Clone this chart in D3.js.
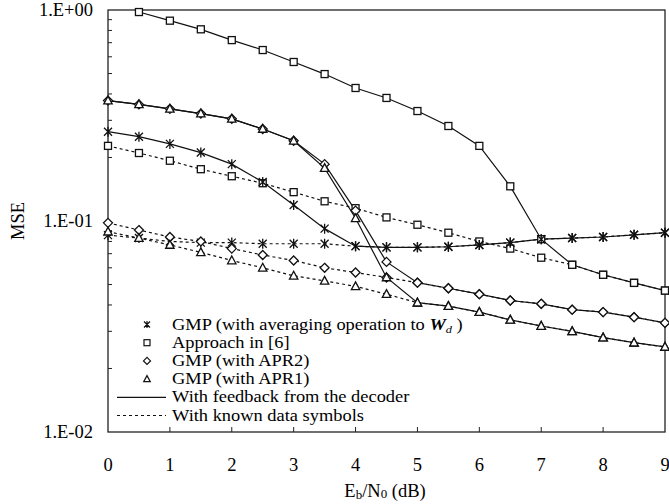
<!DOCTYPE html>
<html><head><meta charset="utf-8">
<script src="https://cdn.jsdelivr.net/npm/d3@7"></script>
<style>body{margin:0;background:#fff}svg{display:block}</style>
</head><body><svg id="c" width="669" height="504"></svg>
<script>
const xVals = [0,0.5,1,1.5,2,2.5,3,3.5,4,4.5,5,5.5,6,6.5,7,7.5,8,8.5,9];
const xTicks = [0,1,2,3,4,5,6,7,8,9];
const yTickVals = [1, 0.1, 0.01];
const yTickLabels = ["1.E+00","1.E-01","1.E-02"];

// Approach in [6]
const apFeedback = [null,0.978,0.89,0.81,0.72,0.646,0.567,0.497,0.427,0.383,0.332,0.282,0.227,0.146,0.082,0.062,0.0556,0.0509,0.0468];
const apKnown = [0.227,0.21,0.193,0.176,0.163,0.151,0.137,0.124,0.115,0.104,0.096,0.088,0.080,0.074,0.067,0.062,0.0556,0.0509,0.0468];
// GMP averaging
const avgFeedback = [0.265,0.251,0.232,0.211,0.186,0.153,0.119,0.092,0.076,0.075,0.075,0.0755,0.077,0.079,0.082,0.083,0.084,0.086,0.088];
const avgKnown = [0.0857,0.083,0.080,0.079,0.079,0.078,0.078,0.078,0.076,0.075,0.075,0.0755,0.077,0.079,0.082,0.083,0.084,0.086,0.088];
// GMP APR2
const apr2Feedback = [0.372,0.357,0.34,0.323,0.305,0.273,0.24,0.186,0.112,0.064,0.051,0.048,0.045,0.042,0.0405,0.038,0.037,0.035,0.0329];
const apr2Known = [0.098,0.0906,0.084,0.080,0.074,0.069,0.065,0.060,0.057,0.054,0.051,0.048,0.045,0.042,0.0405,0.038,0.037,0.035,0.0329];
// GMP APR1
const apr1Feedback = [0.372,0.357,0.34,0.323,0.305,0.273,0.24,0.178,0.103,0.054,0.041,0.0395,0.037,0.034,0.0318,0.030,0.028,0.0265,0.0253];
const apr1Known = [0.089,0.083,0.077,0.071,0.065,0.060,0.055,0.052,0.049,0.045,0.041,0.0395,0.037,0.034,0.0318,0.030,0.028,0.0265,0.0253];

const legendLabels = ["GMP (with averaging operation to ", "Approach in [6]", "GMP (with APR2)", "GMP (with APR1)", "With feedback from the decoder", "With known data symbols"];

const svg = d3.select("#c");
const L=108, R=665, T=10, B=432;
const x = d3.scaleLinear().domain([0,9]).range([L,R]);
const y = d3.scaleLog().domain([0.01,1]).range([B,T]);
const font = "'Liberation Serif','Times New Roman',serif";
const fs = 18.5;
const lfs = 16.3;

const box = svg.append("g");
box.append("rect").attr("x",L).attr("y",T).attr("width",R-L).attr("height",B-T)
  .attr("fill","none").attr("stroke","#222").attr("stroke-width",1.3);

const minor = [];
for (let d=-2; d<0; d++) for (let m=2; m<=9; m++) minor.push(m*Math.pow(10,d));
box.selectAll("line.ym").data(minor).join("line")
  .attr("x1",L).attr("x2",L+4).attr("y1",d=>y(d)).attr("y2",d=>y(d))
  .attr("stroke","#222").attr("stroke-width",1);
box.selectAll("line.xt").data(xTicks.slice(1,-1)).join("line")
  .attr("x1",d=>x(d)).attr("x2",d=>x(d)).attr("y1",B).attr("y2",B-5)
  .attr("stroke","#222").attr("stroke-width",1);

svg.selectAll("text.xl").data(xTicks).join("text")
  .attr("x",d=>x(d)).attr("y",471).attr("text-anchor","middle")
  .attr("font-family",font).attr("font-size",fs).text(d=>d);
svg.selectAll("text.yl").data(yTickVals).join("text")
  .attr("x",93).attr("y",d=>y(d)+6).attr("text-anchor","end")
  .attr("font-family",font).attr("font-size",fs).text((d,i)=>yTickLabels[i]);

svg.append("text").attr("transform","translate(24,221) rotate(-90)")
  .attr("text-anchor","middle").attr("font-family",font).attr("font-size",fs).text("MSE");
const xl = svg.append("text").attr("x",385).attr("y",497).attr("text-anchor","middle")
  .attr("font-family",font).attr("font-size",fs);
xl.append("tspan").text("E");
xl.append("tspan").attr("font-size",13).attr("dy",1.5).text("b");
xl.append("tspan").attr("dy",-1.5).text("/N");
xl.append("tspan").attr("font-size",13).attr("dy",1).text("0");
xl.append("tspan").attr("dy",-1).text(" (dB)");

function marker(g, type, cx, cy) {
  const s = g.append("g").attr("transform",`translate(${cx},${cy})`)
    .attr("fill","#fff").attr("stroke","#111").attr("stroke-width",1.3);
  if (type==="sq") s.append("rect").attr("x",-3.5).attr("y",-3.5).attr("width",7).attr("height",7);
  else if (type==="di") s.append("path").attr("d","M0,-4.5L4.5,0L0,4.5L-4.5,0Z");
  else if (type==="tr") s.append("path").attr("d","M0,-4.5L4.2,3.3L-4.2,3.3Z");
  else if (type==="as") s.append("path").attr("fill","none").attr("d","M-4,-4L4,4M-4,4L4,-4M0,-5L0,5");
}

const series = [
  {v:apKnown, m:"sq", dash:"3,3"},
  {v:avgKnown, m:"as", dash:"3,3"},
  {v:apr2Known, m:"di", dash:"3,3"},
  {v:apr1Known, m:"tr", dash:"3,3"},
  {v:apFeedback, m:"sq", dash:null},
  {v:avgFeedback, m:"as", dash:null},
  {v:apr2Feedback, m:"di", dash:null},
  {v:apr1Feedback, m:"tr", dash:null},
];
const line = d3.line().defined(d=>d[1]!=null).x(d=>x(d[0])).y(d=>y(d[1]));
const plot = svg.append("g");
series.forEach(s=>{
  const pts = xVals.map((xv,i)=>[xv,s.v[i]]);
  plot.append("path").attr("d",line(pts)).attr("fill","none").attr("stroke","#111")
    .attr("stroke-width",1.2).attr("stroke-dasharray",s.dash);
});
series.forEach(s=>{
  xVals.forEach((xv,i)=>{ if (s.v[i]!=null) marker(plot, s.m, x(xv), y(s.v[i])); });
});

const lg = svg.append("g");
const rowStep = 18.2, row0 = 324.5;
const ms = ["as","sq","di","tr"];
legendLabels.forEach((lab,i)=>{
  const ry = row0 + i*rowStep;
  if (i<4) {
    const s = lg.append("g").attr("transform",`translate(147,${ry})`).attr("fill","#fff").attr("stroke","#111").attr("stroke-width",1.2);
    if (ms[i]==="sq") s.append("rect").attr("x",-3).attr("y",-3).attr("width",6).attr("height",6);
    else if (ms[i]==="di") s.append("path").attr("d","M0,-3.5L3.5,0L0,3.5L-3.5,0Z");
    else if (ms[i]==="tr") s.append("path").attr("d","M0,-3.5L3.3,2.6L-3.3,2.6Z");
    else s.append("path").attr("fill","none").attr("d","M-3,-3L3,3M-3,3L3,-3M0,-3.5L0,3.5");
  } else {
    lg.append("line").attr("x1",117).attr("x2",166).attr("y1",ry).attr("y2",ry)
      .attr("stroke","#111").attr("stroke-width",1.2).attr("stroke-dasharray",i===5?"3,3":null);
  }
  const t = lg.append("text").attr("transform",`translate(172,${ry+5}) scale(1.13,1)`)
    .attr("font-family",font).attr("font-size",lfs).text(lab);
  if (i===0) {
    t.append("tspan").attr("font-weight","bold").attr("font-style","italic").text("W");
    t.append("tspan").attr("font-style","italic").attr("font-size",11).attr("dy",3).text("d");
    t.append("tspan").attr("dy",-3).text(" )");
  }
});
</script></body></html>
